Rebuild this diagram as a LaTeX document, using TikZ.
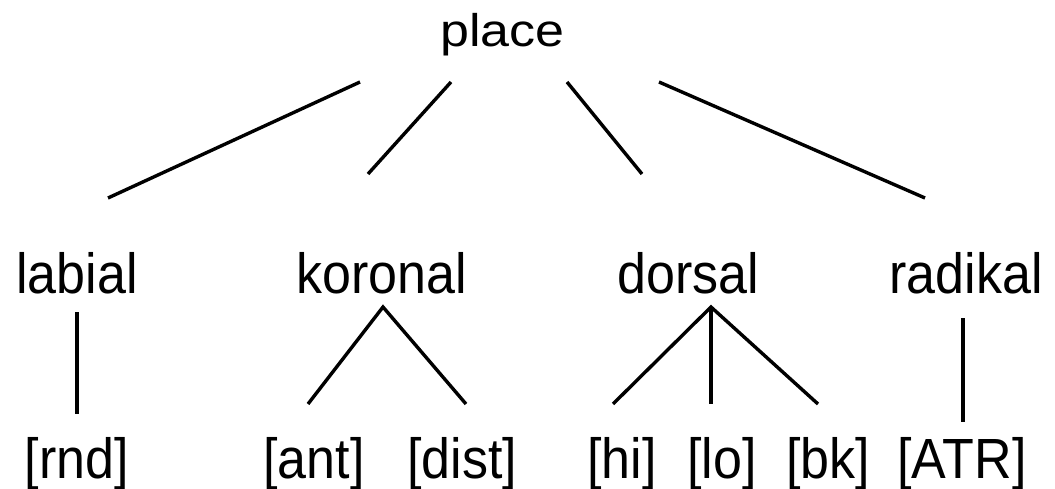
\documentclass[tikz,border=0pt]{standalone}
\usepackage{fontspec}
\setmainfont{Liberation Sans}
\begin{document}
\begin{tikzpicture}[x=1pt,y=1pt,
  lbl/.style={inner sep=0pt,anchor=base,font=\fontsize{52}{60}\selectfont},
  edge/.style={line width=3.4pt,line cap=butt}]
\useasboundingbox (0,0) rectangle (1055,488);
% nodes
\node[lbl] (place)   at (502.5,441) {\scalebox{1}[0.88]{place}};
\node[lbl] (labial)  at (77,194)  {\scalebox{1}[1.09]{labial}};
\node[lbl] (koronal) at (382,194) {\scalebox{1}[1.09]{koronal}};
\node[lbl] (dorsal)  at (688,194) {\scalebox{1}[1.09]{dorsal}};
\node[lbl] (radikal) at (966,194) {\scalebox{1}[1.09]{radikal}};
\node[lbl] (rnd)  at (77,10)  {\scalebox{1}[1.09]{[rnd]}};
\node[lbl] (ant)  at (314,10) {\scalebox{1}[1.09]{[ant]}};
\node[lbl] (dist) at (462,10) {\scalebox{1}[1.09]{[dist]}};
\node[lbl] (hi)   at (622,10) {\scalebox{1}[1.09]{[hi]}};
\node[lbl] (lo)   at (722,10) {\scalebox{1}[1.09]{[lo]}};
\node[lbl] (bk)   at (828,10) {\scalebox{1}[1.09]{[bk]}};
\node[lbl] (atr)  at (962,10) {\scalebox{1}[1.09]{[ATR]}};
% connector ends
\coordinate (pL) at (360,406);  \coordinate (lT) at (108,290);
\coordinate (pK) at (451,406);  \coordinate (kT) at (368,314);
\coordinate (pD) at (567,406);  \coordinate (dT) at (642,314);
\coordinate (pR) at (659,406);  \coordinate (rT) at (925,290);
\coordinate (lB) at (77,176);   \coordinate (rndT) at (77,74);
\coordinate (kB) at (383,181);  \coordinate (antT) at (308,84); \coordinate (distT) at (466,84);
\coordinate (dB) at (711,181);  \coordinate (hiT) at (613,84); \coordinate (loT) at (711,84); \coordinate (bkT) at (818,84);
\coordinate (rB) at (963,170);  \coordinate (atrT) at (963,66);
% connectors
\draw[edge] (pL) -- (lT);
\draw[edge] (pK) -- (kT);
\draw[edge] (pD) -- (dT);
\draw[edge] (pR) -- (rT);
\draw[edge] (lB) -- (rndT);
\draw[edge,line join=miter] (antT) -- (kB) -- (distT);
\draw[edge,line join=miter] (hiT) -- (dB) -- (bkT);
\draw[edge] (dB) -- (loT);
\draw[edge] (rB) -- (atrT);
\end{tikzpicture}
\end{document}
